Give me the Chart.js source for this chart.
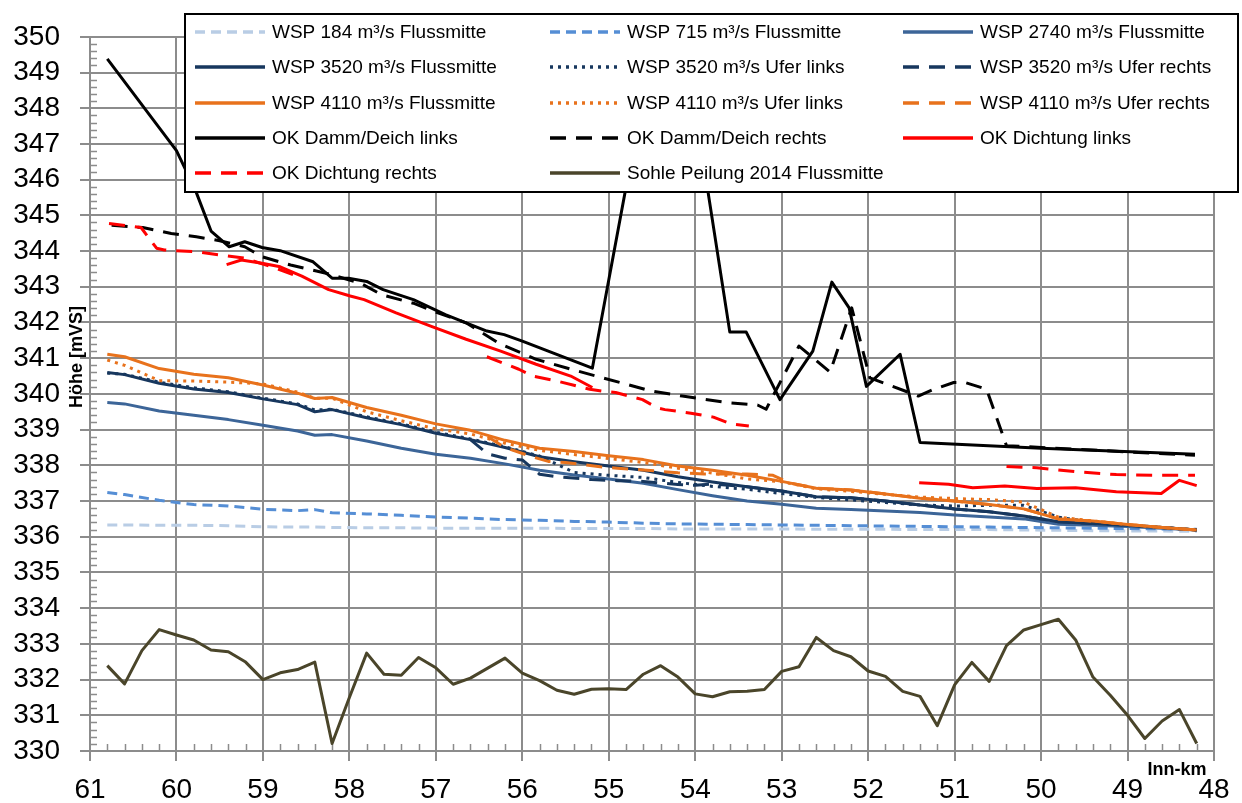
<!DOCTYPE html>
<html>
<head>
<meta charset="utf-8">
<title>Längsschnitt Inn</title>
<script src="https://cdn.jsdelivr.net/npm/chart.js@4.4.1/dist/chart.umd.min.js"></script>
<style>
  html, body { margin: 0; padding: 0; background: #fff; }
</style>
</head>
<body>
<canvas id="profileChart" width="1242" height="803"></canvas>
<script>
// Stationierung (Inn-km) fuer die Wasserspiegel
const wspKm = [60.8, 60.6, 60.2, 59.8, 59.4, 59.0, 58.6, 58.4, 58.2, 57.8, 57.4, 57.0, 56.6, 56.2, 55.8, 55.4, 55.0,
    54.6, 54.2, 53.8, 53.4, 53.0, 52.6, 52.2, 51.8, 51.4, 51.0, 50.6, 50.2, 49.8, 49.4, 49.0, 48.6, 48.2];

const wsp184 = [336.33, 336.33, 336.32, 336.32, 336.31, 336.28, 336.27, 336.27, 336.26, 336.25, 336.25, 336.24, 336.24,
    336.24, 336.24, 336.23, 336.23, 336.23, 336.22, 336.22, 336.22, 336.22, 336.21, 336.21, 336.21, 336.20, 336.20,
    336.20, 336.19, 336.18, 336.17, 336.16, 336.16, 336.15];
const wsp715 = [337.24, 337.18, 337.02, 336.90, 336.86, 336.77, 336.73, 336.76, 336.67, 336.64, 336.60, 336.55, 336.52,
    336.48, 336.46, 336.43, 336.41, 336.38, 336.36, 336.35, 336.34, 336.33, 336.32, 336.31, 336.30, 336.29, 336.28,
    336.27, 336.26, 336.25, 336.24, 336.23, 336.22, 336.21];
const wsp2740 = [339.76, 339.72, 339.52, 339.40, 339.28, 339.12, 338.96, 338.84, 338.86, 338.68, 338.48, 338.31, 338.20,
    338.04, 337.86, 337.73, 337.62, 337.50, 337.32, 337.15, 337.00, 336.91, 336.80, 336.76, 336.72, 336.68, 336.61,
    336.55, 336.50, 336.35, 336.32, 336.29, 336.24, 336.19];
const wsp3520Mid = [340.60, 340.54, 340.30, 340.14, 340.04, 339.86, 339.70, 339.50, 339.56, 339.33, 339.14, 338.90, 338.72,
    338.50, 338.24, 338.10, 337.98, 337.86, 337.68, 337.53, 337.40, 337.28, 337.12, 337.09, 337.00, 336.89, 336.78,
    336.70, 336.58, 336.42, 336.37, 336.32, 336.26, 336.19];
const wsp3520Left = [340.58, 340.55, 340.33, 340.17, 340.06, 339.88, 339.72, 339.55, 339.57, 339.36, 339.16, 338.93, 338.74,
    338.52, 338.26, 337.80, 337.72, 337.66, 337.52, 337.41, 337.33, 337.21, 337.10, 337.03, 336.96, 336.89, 336.86,
    336.88, 336.88, 336.55, 336.40, 336.33, 336.26, 336.19];
const wsp4110Mid = [341.11, 341.04, 340.71, 340.55, 340.45, 340.25, 340.02, 339.87, 339.90, 339.62, 339.40, 339.16, 338.98,
    338.70, 338.48, 338.39, 338.27, 338.16, 337.98, 337.86, 337.72, 337.55, 337.36, 337.31, 337.20, 337.08, 337.00,
    336.90, 336.78, 336.50, 336.44, 336.34, 336.26, 336.19];
const wsp4110Left = [340.95, 340.80, 340.37, 340.36, 340.33, 340.28, 340.05, 339.88, 339.88, 339.50, 339.25, 339.02, 338.88,
    338.62, 338.42, 338.30, 338.19, 338.08, 337.92, 337.78, 337.62, 337.54, 337.34, 337.27, 337.19, 337.11, 337.07,
    337.04, 336.97, 336.55, 336.44, 336.34, 336.26, 336.19];

// Ufer rechts (beginnt erst bei ca. km 56.6)
const rechts3520Km = [56.6, 56.4, 56.2, 56.0, 55.8, 55.6, 55.2, 54.9, 54.6, 54.2, 54.0, 53.8, 53.4, 53.0, 52.6, 52.2,
    51.8, 51.4, 51.0, 50.6, 50.2, 49.8, 49.4, 49.0, 48.6, 48.2];
const wsp3520Right = [338.72, 338.32, 338.20, 338.15, 337.75, 337.68, 337.60, 337.57, 337.55, 337.46, 337.44, 337.48,
    337.40, 337.28, 337.12, 337.09, 337.00, 336.89, 336.78, 336.70, 336.58, 336.42, 336.37, 336.32, 336.26, 336.19];
const rechts4110Km = [56.4, 56.2, 55.9, 55.7, 55.5, 55.1, 54.9, 54.6, 54.2, 53.9, 53.4, 53.1, 52.9, 52.6, 52.2, 51.8,
    51.4, 51.0, 50.6, 50.2, 49.8, 49.4, 49.0, 48.6, 48.2];
const wsp4110Right = [338.80, 338.50, 338.25, 338.11, 338.08, 337.96, 337.92, 337.87, 337.79, 337.76, 337.76, 337.72,
    337.50, 337.36, 337.31, 337.20, 337.08, 337.00, 336.90, 336.78, 336.50, 336.44, 336.34, 336.26, 336.19];

// Oberkante Damm/Deich
const damLeftKm = [60.8, 60.0, 59.78, 59.6, 59.39, 59.21, 59.01, 58.8, 58.42, 58.2, 58.01, 57.8, 57.61, 57.26, 56.89,
    56.65, 56.41, 56.21, 56.0, 55.19, 54.4, 54.15, 53.6, 53.41, 53.02, 52.64, 52.42, 52.22, 52.02, 51.63, 51.4, 50.0, 48.22];
const damLeft = [349.38, 346.81, 345.70, 344.56, 344.12, 344.26, 344.10, 344.01, 343.70, 343.24, 343.24, 343.15, 342.92,
    342.64, 342.22, 341.99, 341.76, 341.66, 341.48, 340.72, 351.0, 350.3, 341.73, 341.73, 339.84, 341.20, 343.13, 342.41,
    340.21, 341.11, 338.64, 338.48, 338.31];
const damRightKm = [60.75, 60.39, 60.06, 59.77, 59.5, 59.21, 59.01, 58.68, 58.27, 57.87, 57.63, 57.26, 57.02, 56.65,
    56.25, 55.84, 55.36, 54.87, 54.51, 54.15, 53.64, 53.28, 53.18, 52.8, 52.44, 52.19, 51.98, 51.42, 51.24, 51.01, 50.88,
    50.63, 50.4, 48.22];
const damRight = [344.72, 344.66, 344.49, 344.40, 344.29, 344.12, 343.84, 343.61, 343.38, 343.10, 342.78, 342.54, 342.31,
    341.99, 341.39, 340.97, 340.64, 340.32, 340.08, 339.94, 339.76, 339.69, 339.57, 341.34, 340.61, 342.41, 340.45, 339.94,
    340.13, 340.32, 340.32, 340.13, 338.55, 338.28];

// Oberkante Dichtung (null = Luecke)
const sealLeftKm = [59.42, 59.25, 59.01, 58.8, 58.55, 58.24, 57.99, 57.83, 57.46, 57.06, 56.65, 56.25, 55.84, 55.44,
    55.19, 53.0, 51.41, 51.07, 50.79, 50.42, 50.05, 49.6, 49.13, 48.61, 48.4, 48.2];
const sealLeft = [343.62, 343.75, 343.66, 343.56, 343.30, 342.92, 342.74, 342.64, 342.27, 341.90, 341.53, 341.20, 340.83,
    340.50, 340.18, null, 337.51, 337.47, 337.37, 337.42, 337.35, 337.37, 337.26, 337.21, 337.58, 337.43];
const sealRightKm = [60.78, 60.41, 60.23, 60.14, 59.77, 59.21, 58.85, 58.6, 57.5, 56.41, 56.04, 55.88, 55.6, 55.22,
    55.02, 54.92, 54.61, 54.43, 54.35, 54.05, 53.79, 53.59, 53.38, 52.0, 50.4, 50.05, 49.6, 49.13, 48.68, 48.22];
const sealRight = [344.77, 344.66, 344.08, 344.03, 343.98, 343.80, 343.52, 343.29, null, 341.04, 340.69, 340.50, 340.36,
    340.13, 340.06, 340.04, 339.84, 339.60, 339.56, 339.46, 339.35, 339.16, 339.10, null, 337.97, 337.93, 337.82, 337.74,
    337.72, 337.72];

// Sohle Peilung 2014 (alle 200 m)
const sohleKm = [60.8, 60.6, 60.4, 60.2, 60.0, 59.8, 59.6, 59.4, 59.2, 59.0, 58.8, 58.6, 58.4, 58.2, 58.0, 57.8, 57.6,
    57.4, 57.2, 57.0, 56.8, 56.6, 56.4, 56.2, 56.0, 55.8, 55.6, 55.4, 55.2, 55.0, 54.8, 54.6, 54.4, 54.2, 54.0, 53.8, 53.6,
    53.4, 53.2, 53.0, 52.8, 52.6, 52.4, 52.2, 52.0, 51.8, 51.6, 51.4, 51.2, 51.0, 50.8, 50.6, 50.4, 50.2, 50.0, 49.8, 49.6,
    49.4, 49.2, 49.0, 48.8, 48.6, 48.4, 48.2];
const sohle = [332.39, 331.88, 332.81, 333.40, 333.25, 333.11, 332.83, 332.78, 332.49, 332.00, 332.19, 332.28, 332.49,
    330.21, 331.50, 332.74, 332.15, 332.12, 332.62, 332.33, 331.87, 332.04, 332.32, 332.60, 332.18, 331.97, 331.70, 331.59,
    331.73, 331.74, 331.72, 332.15, 332.39, 332.07, 331.60, 331.52, 331.66, 331.67, 331.72, 332.23, 332.36, 333.18, 332.81,
    332.64, 332.24, 332.09, 331.67, 331.53, 330.71, 331.85, 332.48, 331.95, 332.95, 333.39, 333.54, 333.69, 333.11, 332.07,
    331.56, 331.00, 330.35, 330.84, 331.16, 330.21];

const FONT = '"Liberation Sans", Arial, sans-serif';
const GRID = '#8c8c8c';

function series(label, kms, values, color, dash) {
    return {
        label: label,
        data: kms.map((k, i) => ({ x: k, y: values[i] })),
        borderColor: color,
        backgroundColor: color,
        borderWidth: 3,
        borderDash: dash,
        borderJoinStyle: 'round',
        pointRadius: 0,
        tension: 0,
        spanGaps: false,
        fill: false
    };
}

const datasets = [
    series('WSP 184 m³/s Flussmitte', wspKm, wsp184, '#b9cde5', [10, 6]),
    series('WSP 715 m³/s Flussmitte', wspKm, wsp715, '#558ed5', [10, 6]),
    series('WSP 2740 m³/s Flussmitte', wspKm, wsp2740, '#3c6598', []),
    series('WSP 3520 m³/s Flussmitte', wspKm, wsp3520Mid, '#17375e', []),
    series('WSP 3520 m³/s Ufer links', wspKm, wsp3520Left, '#17375e', [3, 5]),
    series('WSP 3520 m³/s Ufer rechts', rechts3520Km, wsp3520Right, '#17375e', [16, 10]),
    series('WSP 4110 m³/s Flussmitte', wspKm, wsp4110Mid, '#e8721c', []),
    series('WSP 4110 m³/s Ufer links', wspKm, wsp4110Left, '#e8721c', [3, 5]),
    series('WSP 4110 m³/s Ufer rechts', rechts4110Km, wsp4110Right, '#e8721c', [16, 10]),
    series('OK Damm/Deich links', damLeftKm, damLeft, '#000000', []),
    series('OK Damm/Deich rechts', damRightKm, damRight, '#000000', [16, 10]),
    series('OK Dichtung links', sealLeftKm, sealLeft, '#ff0000', []),
    series('OK Dichtung rechts', sealRightKm, sealRight, '#ff0000', [16, 10]),
    series('Sohle Peilung 2014 Flussmitte', sohleKm, sohle, '#4a452a', [])
];
// later series are drawn on top, like in the spreadsheet
datasets.forEach((ds, i) => { ds.order = datasets.length - i; });

// small inner ticks every 0.2 (km and m)
const minorTicks = {
    id: 'minorTicks',
    beforeDatasetsDraw(chart) {
        const { ctx, chartArea, scales } = chart;
        ctx.save();
        ctx.strokeStyle = GRID;
        ctx.lineWidth = 1.5;
        ctx.beginPath();
        for (let k = 0; k <= 100; k++) {
            if (k % 5 === 0) continue;
            const y = Math.round(scales.y.getPixelForValue(330 + k * 0.2)) + 0.5;
            ctx.moveTo(chartArea.left, y);
            ctx.lineTo(chartArea.left + 7, y);
        }
        for (let k = 0; k <= 65; k++) {
            if (k % 5 === 0) continue;
            const x = Math.round(scales.x.getPixelForValue(48 + k * 0.2)) + 0.5;
            ctx.moveTo(x, chartArea.bottom);
            ctx.lineTo(x, chartArea.bottom - 7);
        }
        ctx.stroke();
        ctx.restore();
    }
};

// axis titles sit inside the label area, so they are drawn by hand
const axisTitles = {
    id: 'axisTitles',
    afterDraw(chart) {
        const ctx = chart.ctx;
        ctx.save();
        ctx.fillStyle = '#000';
        ctx.font = 'bold 18px ' + FONT;
        ctx.textAlign = 'center';
        ctx.textBaseline = 'middle';
        ctx.fillText('Inn-km', 1177, 770);
        ctx.translate(77, 357);
        ctx.rotate(-Math.PI / 2);
        ctx.fillText('Höhe [mVS]', 0, 0);
        ctx.restore();
    }
};

// boxed legend in three columns over the plot
const boxLegend = {
    id: 'boxLegend',
    afterDraw(chart) {
        const ctx = chart.ctx;
        const colX = [195, 550, 903];
        const rowY = [32, 67, 103, 138, 173];
        ctx.save();
        ctx.fillStyle = '#fff';
        ctx.fillRect(185, 14, 1053, 178);
        ctx.lineWidth = 2;
        ctx.strokeStyle = '#000';
        ctx.strokeRect(185, 14, 1053, 178);
        ctx.font = '19px ' + FONT;
        ctx.textBaseline = 'middle';
        chart.data.datasets.forEach((ds, i) => {
            const x = colX[i % 3];
            const y = rowY[Math.floor(i / 3)];
            ctx.beginPath();
            ctx.setLineDash(ds.borderDash);
            ctx.lineWidth = 3.5;
            ctx.strokeStyle = ds.borderColor;
            ctx.moveTo(x, y);
            ctx.lineTo(x + 70, y);
            ctx.stroke();
            ctx.setLineDash([]);
            ctx.fillStyle = '#000';
            ctx.fillText(ds.label, x + 77, y + 1);
        });
        ctx.restore();
    }
};

const ctx = document.getElementById('profileChart').getContext('2d');
const profileChart = new Chart(ctx, {
    type: 'line',
    data: { datasets: datasets },
    options: {
        responsive: false,
        animation: false,
        events: [],
        layout: { padding: { top: 32, right: 28, left: 0, bottom: 0 } },
        scales: {
            x: {
                type: 'linear',
                reverse: true,
                min: 48,
                max: 61,
                afterFit: (scale) => { scale.height = 52; },
                grid: { color: GRID, lineWidth: 2, tickLength: 10 },
                border: { color: GRID, width: 2 },
                ticks: {
                    stepSize: 1,
                    autoSkip: false,
                    maxRotation: 0,
                    padding: 12,
                    color: '#000',
                    font: { family: FONT, size: 28 }
                }
            },
            y: {
                min: 330,
                max: 350,
                afterFit: (scale) => { scale.width = 90; },
                grid: { color: GRID, lineWidth: 2, tickLength: 10 },
                border: { color: GRID, width: 2 },
                ticks: {
                    stepSize: 1,
                    autoSkip: false,
                    padding: 20,
                    color: '#000',
                    font: { family: FONT, size: 28 }
                }
            }
        },
        plugins: {
            legend: { display: false },
            tooltip: { enabled: false }
        }
    },
    plugins: [minorTicks, axisTitles, boxLegend]
});
</script>
</body>
</html>
